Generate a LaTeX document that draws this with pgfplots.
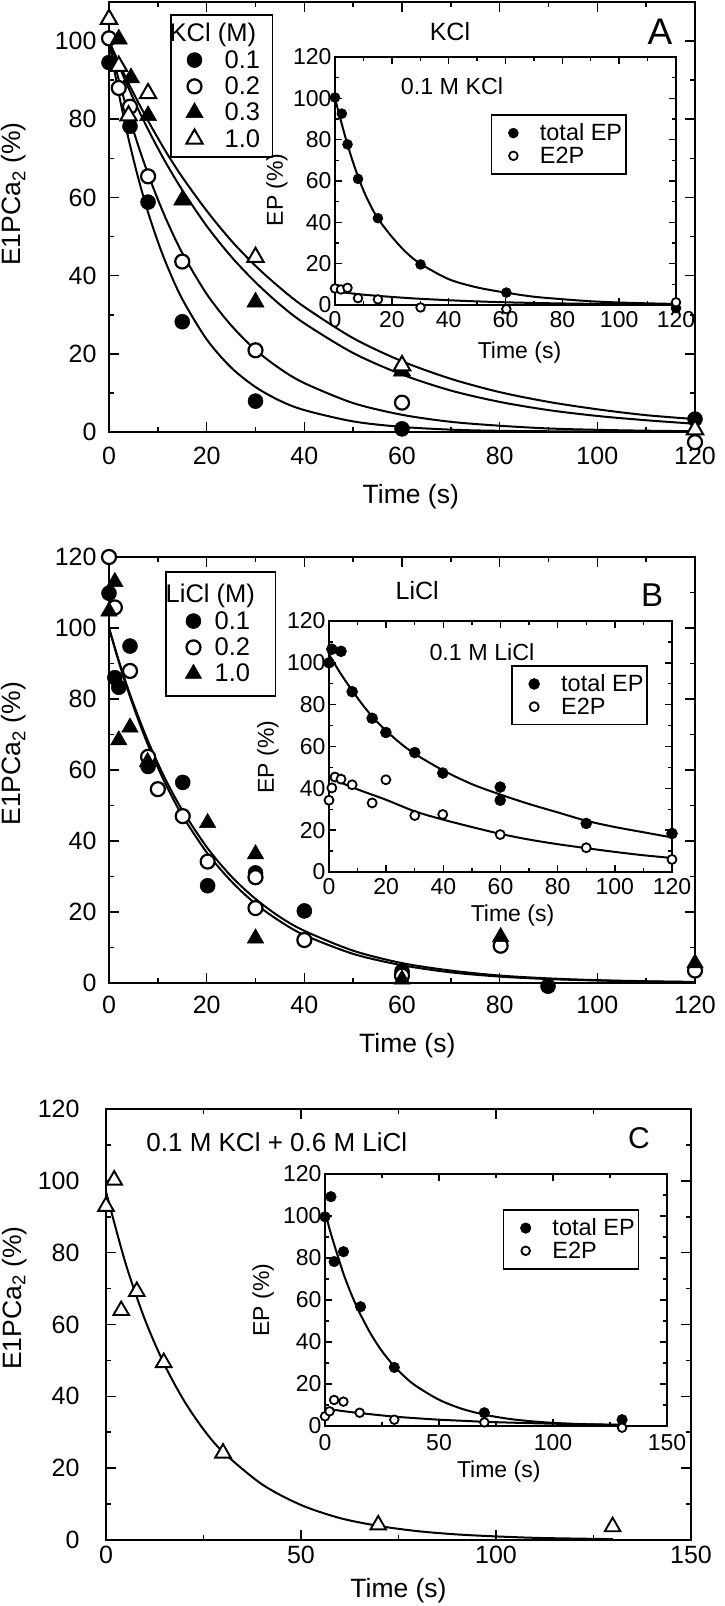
\documentclass[border=0pt]{standalone}
\usepackage{fontspec}
\setmainfont{Liberation Sans}
\usepackage{pgfplots}
\pgfplotsset{compat=1.18}
\newcommand{\fs}[1]{\fontsize{#1}{#1}\selectfont}
\newcommand{\ie}[1]{\hspace*{20.5pt}#1\hspace*{-14pt}}
\pgfplotsset{
  base/.style={
    scale only axis, clip=false, anchor=south west,
    axis line style={line width=2pt},
    tick style={black, line width=1.6pt},
    tick align=inside,
    major tick length=10pt, minor tick length=5pt,
    /pgf/number format/assume math mode=true,
    ticklabel style={font=\fs{25}},
    label style={font=\fs{26.5}},
    legend cell align=left,
  },
  inset/.style={
    base, major tick length=7pt, minor tick length=4pt,
    axis line style={line width=1.8pt},
    tick style={black, line width=1.4pt},
    ticklabel style={font=\fs{23}},
    label style={font=\fs{23}},
    xmin=0, ymin=0, ymax=120, ytick={0,20,...,120}, minor y tick num=1,
    xticklabel style={yshift=-3pt},
    legend style={anchor=north west, draw=black, line width=1.6pt, font=\fs{23.5},
      inner xsep=16.75pt, inner ysep=8pt, row sep=2.5pt, nodes={inner sep=1pt}},
  },
  curve/.style={black, line width=2pt, no marks, smooth, forget plot},
  fc/.style={only marks, mark=*, mark size=#1, mark options={fill=black, draw=black, line width=0.5pt}},
  oc/.style={only marks, mark=*, mark size=#1, mark options={fill=white, draw=black, line width=2.2pt}},
  ocs/.style={only marks, mark=*, mark size=#1, mark options={fill=white, draw=black, line width=1.8pt}},
  ft/.style={only marks, mark=triangle*, mark size=#1, mark options={fill=black, draw=black, line width=0.5pt}},
  ot/.style={only marks, mark=triangle*, mark size=#1, mark options={fill=white, draw=black, line width=2pt}},
  ots/.style={only marks, mark=triangle*, mark size=#1, mark options={fill=white, draw=black, line width=1.9pt}},
}
\begin{document}
\begin{tikzpicture}
\useasboundingbox (0pt,0pt) rectangle (724pt,1606pt);

%================ PANEL A main
\begin{axis}[base, at={(109pt,1174pt)}, width=586pt, height=430pt,
  xmin=0, xmax=120, ymin=0, ymax=110,
  xtick={0,20,...,120}, ytick={0,20,...,100}, minor x tick num=1, minor y tick num=1,
  xticklabel style={yshift=-12pt}, yticklabel style={xshift=-9pt},
  xlabel={Time (s)}, ylabel={E1PCa\textsubscript{2} (\%)},
  xlabel style={at={(axis description cs:0.515,-0.151)}, anchor=center},
  ylabel style={at={(axis description cs:-0.162,0.553)}, anchor=center},
  legend style={at={(axis description cs:0.104,0.972)}, anchor=north west, draw=black, line width=1.8pt,
    font=\fs{25.5}, inner xsep=15pt, inner ysep=7pt, row sep=4pt, nodes={inner sep=1.5pt}},
]
\addplot[curve] coordinates {(0,100)(2,86.6)(4,75.0)(6,64.9)(8,56.2)(10,48.7)(12,42.2)(15,34.0)(20,23.7)(25,16.5)(30,11.5)(35,8.0)(40,5.6)(50,2.7)(60,1.3)(70,0.6)(80,0.3)(100,0.1)(120,0.0)};
\addplot[curve] coordinates {(0,100)(2,90.1)(4,81.2)(6,73.2)(8,66.0)(10,59.5)(12,53.6)(15,45.8)(20,35.3)(25,27.3)(30,21.0)(35,16.2)(40,12.5)(50,7.4)(60,4.4)(70,2.6)(80,1.6)(90,0.9)(100,0.55)(110,0.33)(120,0.2)};
\addplot[curve] coordinates {(0,100)(2,93.8)(4,88.0)(6,82.5)(8,77.4)(10,72.6)(12,68.1)(15,61.9)(20,52.7)(25,44.9)(30,38.3)(35,32.6)(40,27.8)(50,20.2)(60,14.7)(70,10.6)(80,7.7)(90,5.6)(100,4.1)(110,3.0)(120,2.1)};
\addplot[curve] coordinates {(0,100)(2,94.5)(4,89.2)(6,84.3)(8,79.6)(10,75.2)(12,71.0)(15,65.2)(20,56.6)(25,49.0)(30,42.5)(35,36.9)(40,32.0)(50,24.0)(60,18.1)(70,13.6)(80,10.2)(90,7.7)(100,5.8)(110,4.3)(120,3.3)};
\addlegendimage{empty legend}\addlegendentry{\hspace*{-35pt}KCl (M)}
\addplot[fc=7.5] coordinates {(0,94.5)(4.3,78.2)(8,58.8)(15,28.2)(30,7.9)(60,0.8)(120,3.3)};
\addlegendentry{\hspace*{20pt}0.1\hspace*{-10pt}}
\addplot[oc=7] coordinates {(0,100.7)(2,88)(4.3,83.2)(8,65.4)(15,43.6)(30,20.9)(60,7.5)(120,-2.6)};
\addlegendentry{\hspace*{20pt}0.2\hspace*{-10pt}}
\addplot[ft=10] coordinates {(2,100.5)(4.5,90.6)(8,80.9)(15,59.3)(30,33.2)(60,15.6)};
\addlegendentry{\hspace*{20pt}0.3\hspace*{-10pt}}
\addplot[ot=9.5] coordinates {(0,105.6)(2,93.6)(4,80.9)(8,86.6)(30,44.7)(60,17)(120,0.6)};
\addlegendentry{\hspace*{20pt}1.0\hspace*{-10pt}}
\node[font=\fs{37}] at (axis description cs:0.940,0.930) {A};
\end{axis}

%================ PANEL A inset
\begin{axis}[inset, at={(335pt,1301pt)}, width=341pt, height=248pt,
  xmax=120, xtick={0,20,...,120}, minor x tick num=1,
  xlabel={Time (s)}, ylabel={EP (\%)},
  xlabel style={at={(axis description cs:0.541,-0.19)}, anchor=center},
  ylabel style={at={(axis description cs:-0.17,0.464)}, anchor=center},
  title={KCl}, title style={at={(axis description cs:0.337,1.08)}, anchor=center, font=\fs{25}},
  legend style={at={(axis description cs:0.457,0.770)}},
]
\addplot[curve] coordinates {(0,100)(2,89.5)(4,79.5)(6,70.5)(8,62.5)(10,55.5)(12,49.5)(15,42)(20,33)(25,25.5)(30,20)(40,12.5)(50,8.5)(60,6)(70,4)(80,2.8)(90,1.8)(100,1.2)(110,0.8)(120,0.5)};
\addplot[curve] coordinates {(0,6.5)(10,5.0)(20,3.9)(30,3.0)(45,2.0)(60,1.3)(75,0.85)(90,0.55)(105,0.35)(120,0.22)};
\addplot[fc=5] coordinates {(0,100.4)(2.4,92.6)(4.4,77.7)(8.1,61)(15.1,42)(30.1,19.6)(60.3,6)(120,-1.5)};
\addlegendentry{\ie{total EP}}
\addplot[ocs=4.3] coordinates {(0,8)(2.1,7.5)(4.4,8.3)(8.1,3.3)(15.1,2.7)(30.1,-1.2)(60.3,-2)(120,1.3)};
\addlegendentry{\ie{E2P}}
\node[font=\fs{23.3}] at (axis description cs:0.343,0.883) {0.1 M KCl};
\end{axis}

%================ PANEL B main
\begin{axis}[base, at={(109pt,623pt)}, width=586pt, height=426pt,
  xmin=0, xmax=120, ymin=0, ymax=120,
  xtick={0,20,...,120}, ytick={0,20,...,120}, minor x tick num=1, minor y tick num=1,
  xticklabel style={yshift=-10pt}, yticklabel style={xshift=-9pt},
  xlabel={Time (s)}, ylabel={E1PCa\textsubscript{2} (\%)},
  xlabel style={at={(axis description cs:0.509,-0.148)}, anchor=center},
  ylabel style={at={(axis description cs:-0.162,0.538)}, anchor=center},
  legend style={at={(axis description cs:0.0956,0.967)}, anchor=north west, draw=black, line width=1.8pt,
    font=\fs{25.5}, inner xsep=19pt, inner ysep=11pt, row sep=4pt, nodes={inner sep=1.5pt}},
]
\addplot[curve] coordinates {(0,100)(2,90.5)(4,81.9)(6,74.1)(8,67.0)(10,60.7)(12,54.9)(15,47.2)(20,36.8)(25,28.7)(30,22.3)(35,17.4)(40,13.5)(50,8.2)(60,5.0)(70,3.0)(80,1.8)(90,1.1)(100,0.7)(110,0.4)(120,0.25)};
\addplot[curve] coordinates {(0,100)(2,90.8)(4,82.5)(6,75.0)(8,68.1)(10,61.9)(12,56.2)(15,48.7)(20,38.3)(25,30.1)(30,23.7)(35,18.6)(40,14.7)(50,9.1)(60,5.6)(70,3.5)(80,2.1)(90,1.3)(100,0.8)(110,0.5)(120,0.3)};
\addlegendimage{empty legend}\addlegendentry{\hspace*{-37.5pt}LiCl (M)}
\addplot[fc=7.5] coordinates {(0,109.8)(1.2,86)(2,83.3)(4.3,94.9)(8,61)(15.1,56.5)(20.2,27.4)(30,31)(40,20.3)(60,3.3)(89.9,-0.9)};
\addlegendentry{\hspace*{11.5pt}0.1\hspace*{-4pt}}
\addplot[oc=7] coordinates {(0,120)(1.2,105.8)(4.3,87.9)(8,63.7)(10,54.6)(15.1,47)(20.2,34.2)(30,29.8)(30,21.1)(40,12.1)(60,2.1)(80.2,10.5)(120,3.5)};
\addlegendentry{\hspace*{11.5pt}0.2\hspace*{-4pt}}
\addplot[ft=9.5] coordinates {(0,104.7)(1.2,113)(2,68.4)(4.3,72)(7.9,62.3)(20.2,45.1)(30,36.3)(30,12.6)(60,1)(80.2,13)(120,5.6)};
\addlegendentry{\hspace*{11.5pt}1.0\hspace*{-4pt}}
\node[font=\fs{33}] at (axis description cs:0.927,0.911) {B};
\end{axis}

%================ PANEL B inset
\begin{axis}[inset, at={(329pt,734pt)}, width=343pt, height=251pt,
  xmax=120, xtick={0,20,...,120}, minor x tick num=1,
  xlabel={Time (s)}, ylabel={EP (\%)},
  xlabel style={at={(axis description cs:0.535,-0.175)}, anchor=center},
  ylabel style={at={(axis description cs:-0.178,0.458)}, anchor=center},
  title={LiCl}, title style={at={(axis description cs:0.257,1.096)}, anchor=center, font=\fs{25}},
  legend style={at={(axis description cs:0.531,0.825)}},
]
\addplot[curve] coordinates {(0,104)(4,95)(8,87)(12,79.5)(16,73)(20,67.5)(25,61.5)(30,56.5)(40,48.5)(50,42)(60,37)(70,32.5)(80,28.5)(90,24.5)(100,21.5)(110,19)(120,16.5)};
\addplot[curve] coordinates {(0,45)(10,39.5)(20,34.5)(30,29)(40,25)(50,21.5)(60,18.2)(70,15.5)(80,13.3)(90,11.4)(100,9.6)(110,8)(120,6.7)};
\addplot[fc=5.5] coordinates {(0,100)(1,106.5)(4.2,105.5)(8.1,86.2)(15.1,73.5)(19.9,66.7)(30,57.1)(39.8,47.3)(59.9,40.6)(59.9,34.3)(90,23.2)(120,18.4)};
\addlegendentry{\ie{total EP}}
\addplot[ocs=4.5] coordinates {(0,34.3)(1,40.2)(2.1,45.4)(4.2,44.4)(8.1,41.7)(15.1,33)(19.9,44.1)(30,27)(39.8,27.5)(59.9,17.9)(90,11.6)(120,6)};
\addlegendentry{\ie{E2P}}
\node[font=\fs{23.3}] at (axis description cs:0.446,0.876) {0.1 M LiCl};
\end{axis}

%================ PANEL C main
\begin{axis}[base, at={(106pt,66pt)}, width=585pt, height=431pt,
  xmin=0, xmax=150, ymin=0, ymax=120,
  xtick={0,50,100,150}, ytick={0,20,...,120}, minor x tick num=1, minor y tick num=1,
  xticklabel style={yshift=-3pt}, yticklabel style={xshift=-23pt},
  xlabel={Time (s)}, ylabel={E1PCa\textsubscript{2} (\%)},
  xlabel style={at={(axis description cs:0.5,-0.118)}, anchor=center},
  ylabel style={at={(axis description cs:-0.157,0.561)}, anchor=center},
]
\addplot[curve] coordinates {(0,97)(5,77.1)(10,61.3)(15,48.8)(20,38.8)(25,30.8)(30,24.5)(40,15.5)(50,9.75)(60,6.1)(70,3.9)(80,2.45)(90,1.55)(100,1.0)(110,0.6)(120,0.4)(130,0.25)};
\addplot[ots=9] coordinates {(0,92.9)(2.1,100.2)(3.9,63.9)(7.9,69.2)(14.8,49.4)(30,24.2)(69.8,4.2)(129.9,3.7)};
\node[font=\fs{26}] at (axis description cs:0.292,0.923) {0.1 M KCl + 0.6 M LiCl};
\node[font=\fs{30}] at (axis description cs:0.911,0.933) {C};
\end{axis}

%================ PANEL C inset
\begin{axis}[inset, at={(325pt,180pt)}, width=342pt, height=252pt,
  xmax=150, xtick={0,50,100,150}, minor x tick num=1,
  xticklabel style={yshift=-2pt},
  xlabel={Time (s)}, ylabel={EP (\%)},
  xlabel style={at={(axis description cs:0.508,-0.18)}, anchor=center},
  ylabel style={at={(axis description cs:-0.181,0.5)}, anchor=center},
  legend style={at={(axis description cs:0.520,0.861)}},
]
\addplot[curve] coordinates {(0,102)(2,93.8)(4,86.5)(6,79.6)(8,72.8)(10,67.0)(12,61.6)(15,54.3)(20,44.0)(25,35.6)(30,28.9)(35,23.4)(40,19.0)(50,12.5)(60,8.2)(70,5.4)(80,3.5)(90,2.3)(100,1.5)(110,1.0)(120,0.66)(130,0.43)};
\addplot[curve] coordinates {(0,8.3)(10,6.8)(20,5.6)(30,4.5)(40,3.7)(50,3.0)(60,2.5)(70,2.0)(80,1.65)(90,1.35)(100,1.1)(110,0.9)(120,0.74)(130,0.6)};
\addplot[fc=5.3] coordinates {(0,99.6)(2.6,109.2)(4,78.3)(8.1,83)(15.6,56.8)(30.4,27.9)(69.9,6.3)(130.3,3)};
\addlegendentry{\ie{total EP}}
\addplot[ocs=4.3] coordinates {(0,4.6)(2,7)(4,12.4)(8.1,11.6)(15.2,6.3)(30.4,3)(69.9,1.7)(130.3,-0.8)};
\addlegendentry{\ie{E2P}}
\end{axis}
\end{tikzpicture}
\end{document}
